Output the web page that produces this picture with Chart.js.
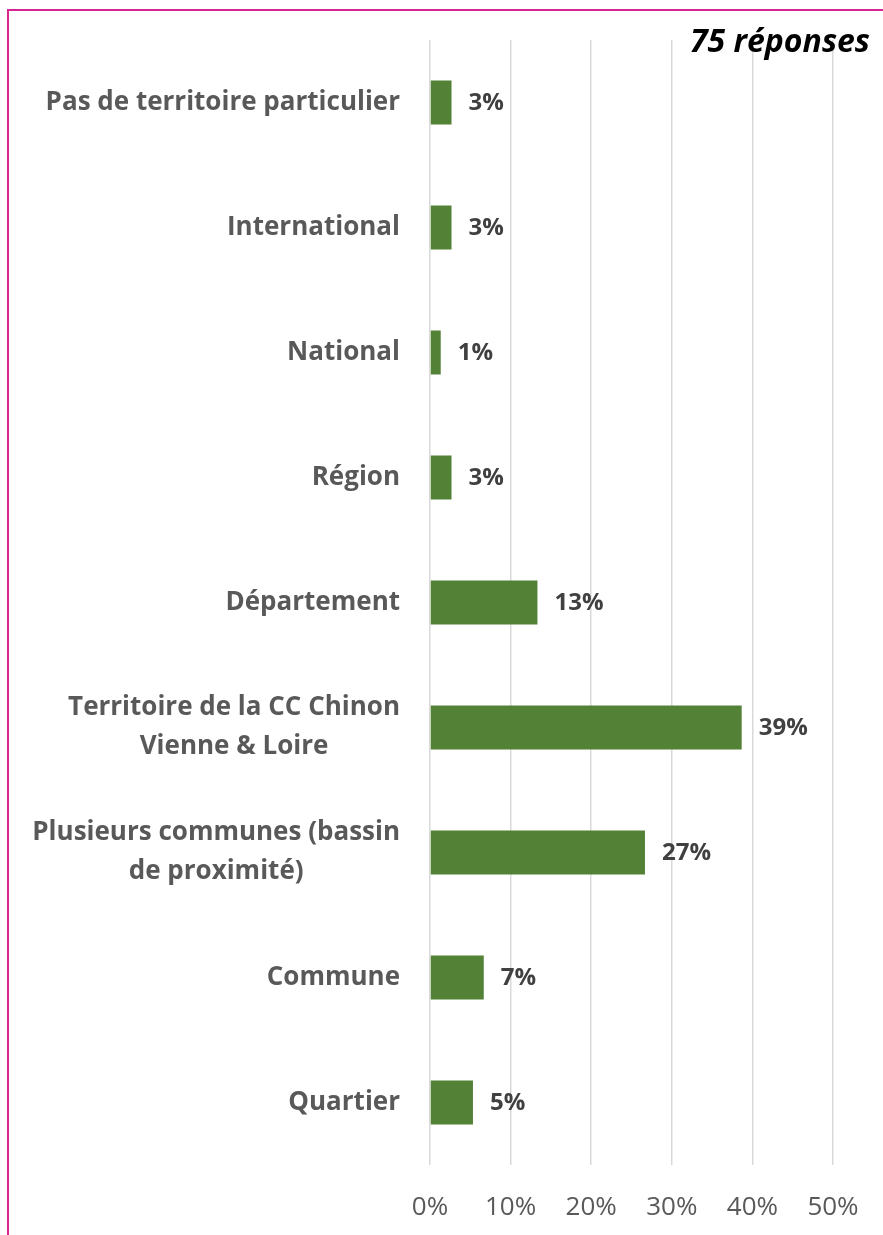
<!DOCTYPE html>
<html>
<head>
<meta charset="utf-8">
<script src="https://cdn.jsdelivr.net/npm/chart.js@4"></script>
<style>
  body { margin: 0; background: #fff; overflow: hidden; }
  #frame { position: absolute; left: 7px; top: 9px; width: 900px; height: 1300px; border: 2px solid #d6268f; }
  #chart { position: absolute; left: 0; top: 0; }
</style>
</head>
<body>
<div id="frame"></div>
<canvas id="chart" width="883" height="1235"></canvas>
<script>
// categories top to bottom, values in % of the 75 answers
var categories = [
    ['Pas de territoire particulier'],
    ['International'],
    ['National'],
    ['Région'],
    ['Département'],
    ['Territoire de la CC Chinon', 'Vienne & Loire'],
    ['Plusieurs communes (bassin', 'de proximité)'],
    ['Commune'],
    ['Quartier']
];
var values = [2.67, 2.67, 1.33, 2.67, 13.33, 38.67, 26.67, 6.67, 5.33];
var xTicks = [0, 10, 20, 30, 40, 50];
var title = '75 réponses';

var FONT = '"Open Sans", sans-serif';

var labelPlugin = {
    id: 'labels',
    afterDatasetsDraw: function(chart) {
        var ctx = chart.ctx;
        var yScale = chart.scales.y;
        var meta = chart.getDatasetMeta(0);
        ctx.save();

        // category labels, multi-line ones centered on each other
        ctx.font = 'bold 26px ' + FONT;
        ctx.fillStyle = '#595959';
        ctx.textBaseline = 'middle';
        ctx.textAlign = 'center';
        var lineH = 39;
        categories.forEach(function(lines, i) {
            var y = yScale.getPixelForValue(i);
            var maxW = 0;
            lines.forEach(function(l) { maxW = Math.max(maxW, ctx.measureText(l).width); });
            var cx = 400 - maxW / 2;
            var y0 = y - (lines.length - 1) * lineH / 2;
            lines.forEach(function(l, k) { ctx.fillText(l, cx, y0 + k * lineH); });
        });

        // value labels at the end of each bar
        ctx.font = 'bold 24px ' + FONT;
        ctx.fillStyle = '#404040';
        ctx.textAlign = 'left';
        meta.data.forEach(function(bar, i) {
            ctx.fillText(Math.round(values[i]) + '%', bar.x + 17, bar.y + 1);
        });

        // title
        ctx.font = 'italic bold 32px ' + FONT;
        ctx.fillStyle = '#000';
        ctx.textAlign = 'right';
        ctx.fillText(title, 870, 43);
        ctx.restore();
    }
};

var ctx = document.getElementById('chart').getContext('2d');
var chart = new Chart(ctx, {
    type: 'bar',
    data: {
        labels: categories,
        datasets: [{
            data: values,
            backgroundColor: '#538135',
            borderWidth: 0,
            categoryPercentage: 1,
            barPercentage: 0.352
        }]
    },
    options: {
        indexAxis: 'y',
        responsive: false,
        animation: false,
        devicePixelRatio: 1,
        layout: { padding: { left: 0, right: 50, top: 40, bottom: 0 } },
        plugins: {
            legend: { display: false },
            tooltip: { enabled: false }
        },
        scales: {
            x: {
                min: 0,
                max: 50,
                afterBuildTicks: function(scale) {
                    scale.ticks = xTicks.map(function(v) { return { value: v }; });
                },
                afterFit: function(scale) {
                    scale.height = 70;
                    scale.paddingLeft = 0;
                    scale.paddingRight = 0;
                },
                border: { display: false },
                grid: { color: '#d9d9d9', lineWidth: 1.5, drawTicks: false },
                ticks: {
                    padding: 27,
                    color: '#595959',
                    font: { family: FONT, size: 26 },
                    callback: function(v) { return v + '%'; }
                }
            },
            y: {
                afterFit: function(scale) { scale.width = 430; },
                border: { display: false },
                grid: { display: false },
                ticks: { display: false }
            }
        }
    },
    plugins: [labelPlugin]
});
</script>
</body>
</html>
